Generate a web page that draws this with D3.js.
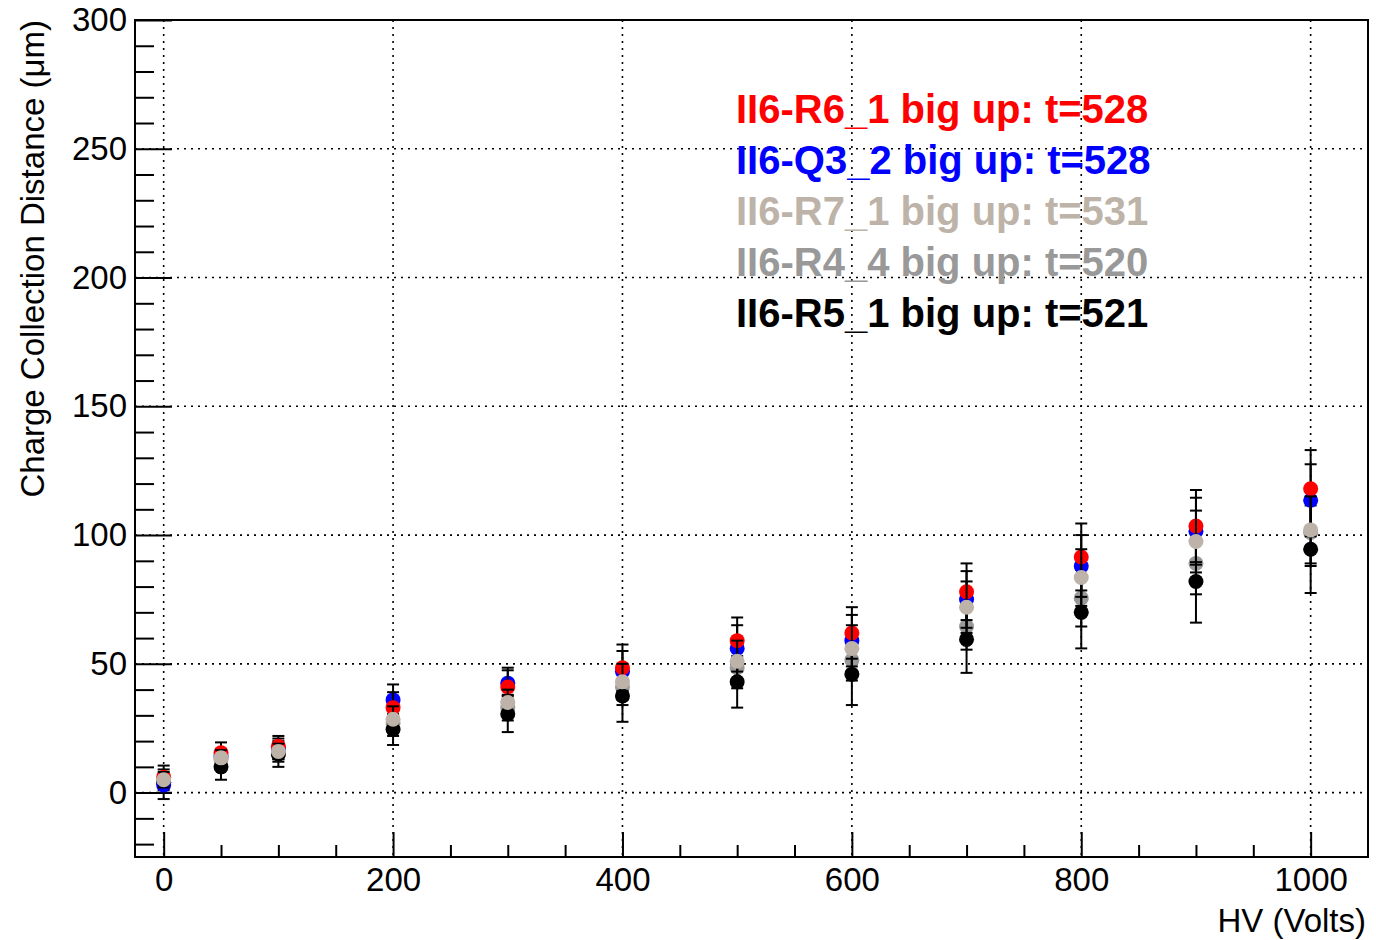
<!DOCTYPE html>
<html>
<head>
<meta charset="utf-8">
<script src="https://cdn.jsdelivr.net/npm/d3@7"></script>
<style>
  body { margin: 0; background: #fff; }
  svg { display: block; font-family: "Liberation Sans", Arial, Helvetica, sans-serif; }
</style>
</head>
<body>
<div id="chart"></div>
<script>
// HV points (Volts)
const hv = [0, 50, 100, 200, 300, 400, 500, 600, 700, 800, 900, 1000];

// charge collection distance per sample (um) and its errors
const r6Values = [6, 15.5, 18, 33, 41, 48.5, 59, 62, 78, 91.5, 103.5, 118];
const r6Errors = [3, 4, 4, 6, 6.5, 9, 9, 10, 11, 13, 14, 15];
const q3Values = [3, 14, 17, 36, 42.5, 47, 56, 59, 75, 88, 101.5, 113.5];
const q3Errors = [3, 3, 4, 6, 6, 8, 9, 10, 11, 12, 13, 14];
const r7Values = [5, 13.5, 16, 28.5, 35, 43, 51, 56, 72, 83.5, 97.5, 102];
const r7Errors = [3, 3, 3, 5, 5, 7, 8, 9, 10, 11, 12, 13];
const r4Values = [4, 13, 15, 27, 33, 41, 48.5, 51.5, 64.5, 75.5, 89, 101];
const r4Errors = [3, 3, 3, 5, 5, 7, 8, 8, 9, 11, 12, 13];
const r5Values = [4, 10, 15, 24.5, 30.5, 37.5, 43, 46, 59.5, 70, 82, 94.5];
const r5Errors = [6.5, 5, 5, 6, 7, 10, 10, 12, 13, 14, 16, 17];

const legendLabels = [
    "II6-R6_1 big up: t=528",
    "II6-Q3_2 big up: t=528",
    "II6-R7_1 big up: t=531",
    "II6-R4_4 big up: t=520",
    "II6-R5_1 big up: t=521"
];
const colors = ["#ff0000", "#0000ff", "#bdb3a8", "#999999", "#000000"];

const xMajor = [0, 200, 400, 600, 800, 1000];
const yMajor = [0, 50, 100, 150, 200, 250, 300];

const W = 1376, H = 940;
const frame = {left: 135, right: 1368, top: 20, bottom: 857};

const series = [
    {name: legendLabels[0], color: colors[0], values: r6Values, errors: r6Errors},
    {name: legendLabels[1], color: colors[1], values: q3Values, errors: q3Errors},
    {name: legendLabels[2], color: colors[2], values: r7Values, errors: r7Errors},
    {name: legendLabels[3], color: colors[3], values: r4Values, errors: r4Errors},
    {name: legendLabels[4], color: colors[4], values: r5Values, errors: r5Errors}
];

const x = d3.scaleLinear().domain([-25, 1050]).range([frame.left, frame.right]);
const y = d3.scaleLinear().domain([-25, 300]).range([frame.bottom, frame.top]);

const svg = d3.select("#chart").append("svg")
    .attr("width", W)
    .attr("height", H);

svg.append("rect").attr("width", W).attr("height", H).attr("fill", "#fff");

// grid (dotted, at major ticks)
const grid = svg.append("g")
    .attr("stroke", "#000")
    .attr("stroke-width", 1.6)
    .attr("stroke-dasharray", "2,5");
grid.selectAll("line.gx").data(xMajor).join("line")
    .attr("x1", d => x(d)).attr("x2", d => x(d))
    .attr("y1", frame.top).attr("y2", frame.bottom);
grid.selectAll("line.gy").data(yMajor).join("line")
    .attr("x1", frame.left).attr("x2", frame.right)
    .attr("y1", d => y(d)).attr("y2", d => y(d));

// axes - ROOT style ticks pointing inwards
const xMinor = d3.range(0, 1050, 50).filter(v => !xMajor.includes(v));
const yMinor = d3.range(-20, 300, 10).filter(v => !yMajor.includes(v));

const styleAxis = g => {
    g.select(".domain").remove();
    g.selectAll("line").attr("stroke", "#000").attr("stroke-width", 2);
    g.selectAll("text").attr("fill", "#000").attr("font-size", 33);
};

svg.append("g")
    .attr("transform", `translate(0,${frame.bottom})`)
    .call(d3.axisBottom(x).tickValues(xMinor).tickSize(-12).tickFormat(""))
    .call(styleAxis);
svg.append("g")
    .attr("transform", `translate(0,${frame.bottom})`)
    .call(d3.axisBottom(x).tickValues(xMajor).tickSize(-25).tickPadding(11).tickFormat(d3.format("d")))
    .call(styleAxis);

svg.append("g")
    .attr("transform", `translate(${frame.left},0)`)
    .call(d3.axisLeft(y).tickValues(yMinor).tickSize(-19).tickFormat(""))
    .call(styleAxis);
svg.append("g")
    .attr("transform", `translate(${frame.left},0)`)
    .call(d3.axisLeft(y).tickValues(yMajor).tickSize(-37).tickPadding(8).tickFormat(d3.format("d")))
    .call(styleAxis);

// frame
svg.append("rect")
    .attr("x", frame.left).attr("y", frame.top)
    .attr("width", frame.right - frame.left)
    .attr("height", frame.bottom - frame.top)
    .attr("fill", "none")
    .attr("stroke", "#000")
    .attr("stroke-width", 2);

// axis titles
svg.append("text")
    .attr("x", frame.right - 2)
    .attr("y", 932)
    .attr("text-anchor", "end")
    .attr("font-size", 33)
    .text("HV (Volts)");

svg.append("text")
    .attr("transform", `translate(44,${frame.top}) rotate(-90)`)
    .attr("text-anchor", "end")
    .attr("font-size", 33)
    .text("Charge Collection Distance (\u03bcm)");

// data: draw order so the beige one ends up on top like in the original
const drawOrder = [3, 4, 1, 0, 2];
const cap = 6;
const plot = svg.append("g");

drawOrder.forEach(i => {
    const s = series[i];
    const pts = hv.map((v, j) => ({x: v, y: s.values[j], e: s.errors[j]}));
    const g = plot.append("g");

    const eb = g.selectAll("g.err").data(pts).join("g")
        .attr("stroke", "#000")
        .attr("stroke-width", 2);
    eb.append("line")
        .attr("x1", d => x(d.x)).attr("x2", d => x(d.x))
        .attr("y1", d => y(d.y - d.e)).attr("y2", d => y(d.y + d.e));
    eb.append("line")
        .attr("x1", d => x(d.x) - cap).attr("x2", d => x(d.x) + cap)
        .attr("y1", d => y(d.y + d.e)).attr("y2", d => y(d.y + d.e));
    eb.append("line")
        .attr("x1", d => x(d.x) - cap).attr("x2", d => x(d.x) + cap)
        .attr("y1", d => y(d.y - d.e)).attr("y2", d => y(d.y - d.e));

    g.selectAll("circle").data(pts).join("circle")
        .attr("cx", d => x(d.x))
        .attr("cy", d => y(d.y))
        .attr("r", 7.5)
        .attr("fill", s.color);
});

// legend text, underscore sits a bit lower like in ROOT
const leg = svg.append("g")
    .selectAll("text")
    .data(series)
    .join("text")
    .attr("x", 736)
    .attr("y", (d, i) => 123 + i * 51)
    .attr("font-size", 40)
    .attr("font-weight", "bold")
    .attr("fill", d => d.color);
leg.each(function(d) {
    const parts = d.name.split("_");
    const t = d3.select(this);
    t.append("tspan").text(parts[0]);
    t.append("tspan").attr("dy", 1).text("_");
    t.append("tspan").attr("dy", -1).text(parts[1]);
});
</script>
</body>
</html>
